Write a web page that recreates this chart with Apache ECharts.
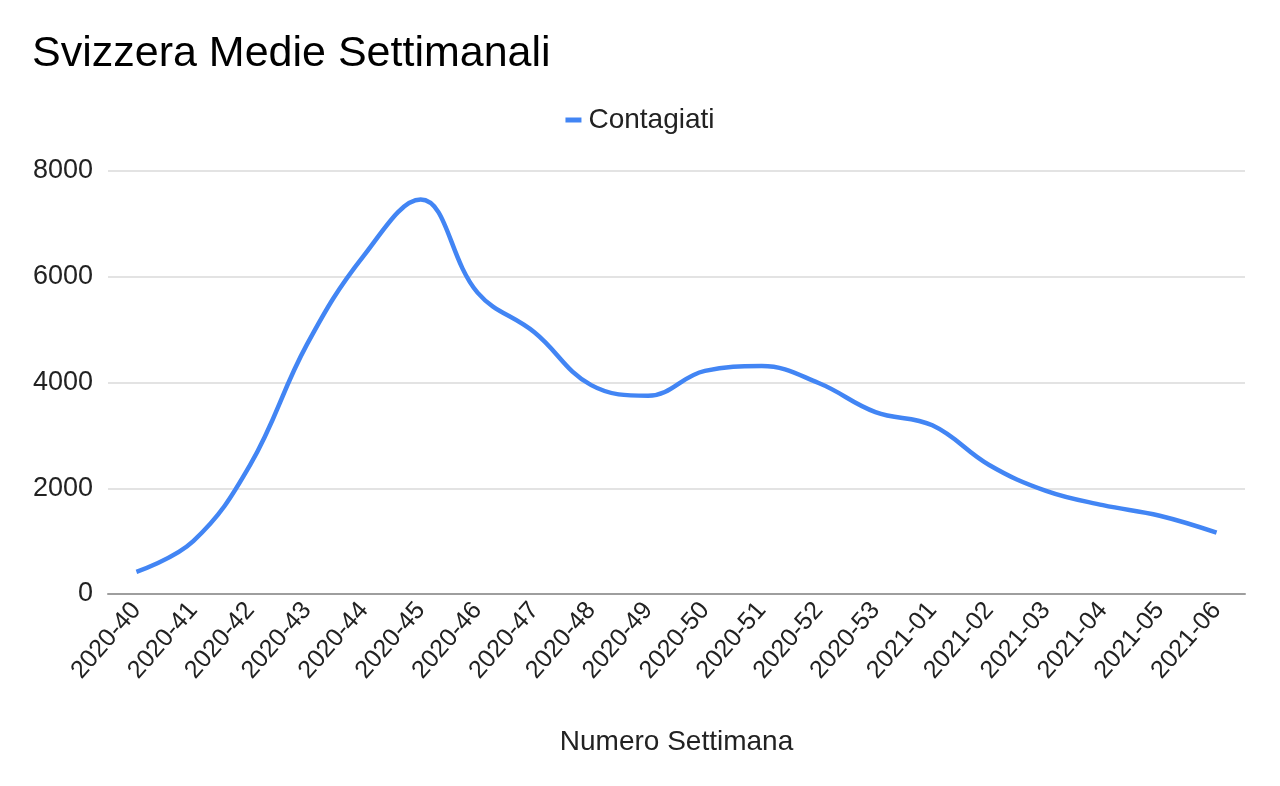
<!DOCTYPE html>
<html>
<head>
<meta charset="utf-8">
<script src="https://cdn.jsdelivr.net/npm/echarts@6/dist/echarts.min.js"></script>
<style>html,body{margin:0;padding:0;background:#fff;}#c{width:1280px;height:786px;}</style>
</head>
<body>
<div id="c"></div>
<script>
var categories = ["2020-40","2020-41","2020-42","2020-43","2020-44","2020-45","2020-46","2020-47","2020-48","2020-49","2020-50","2020-51","2020-52","2020-53","2021-01","2021-02","2021-03","2021-04","2021-05","2021-06"];
var contagiati = [420, 1000, 2440, 4720, 6400, 7460, 5700, 4950, 3950, 3750, 4220, 4310, 3990, 3440, 3190, 2440, 1950, 1680, 1480, 1160];
var yTicks = {min: 0, max: 8000, interval: 2000};

var FONT = '"Liberation Sans", Arial, sans-serif';
var chart = echarts.init(document.getElementById('c'));
chart.setOption({
  backgroundColor: '#fff',
  animation: false,
  textStyle: {fontFamily: FONT},
  title: {
    text: 'Svizzera Medie Settimanali',
    left: 27, top: 28,
    textStyle: {fontSize: 43, fontWeight: 'normal', color: '#000', fontFamily: FONT}
  },
  legend: {
    data: ['Contagiati'],
    left: 'center', top: 101,
    icon: 'rect', itemWidth: 16, itemHeight: 5, itemGap: 10,
    itemStyle: {borderWidth: 0},
    textStyle: {fontSize: 28, color: '#222', fontFamily: FONT, padding: [0, 0, 0, 2]}
  },
  grid: {left: 108, right: 35, top: 171, bottom: 192, containLabel: false},
  xAxis: {
    type: 'category',
    data: categories,
    boundaryGap: true,
    name: 'Numero Settimana',
    nameLocation: 'middle',
    nameGap: 134,
    nameTextStyle: {fontSize: 28, color: '#222', fontFamily: FONT},
    axisLine: {lineStyle: {color: '#9e9e9e', width: 2}},
    axisTick: {show: false},
    axisLabel: {rotate: 49, fontSize: 25, color: '#222', margin: 12, interval: 0, fontFamily: FONT},
    splitLine: {show: false}
  },
  yAxis: {
    type: 'value',
    min: yTicks.min, max: yTicks.max, interval: yTicks.interval,
    axisLine: {show: false},
    axisTick: {show: false},
    axisLabel: {fontSize: 27, color: '#222', margin: 15, fontFamily: FONT, formatter: function (v) { return String(v); }},
    splitLine: {lineStyle: {color: '#e3e3e3', width: 2}}
  },
  series: [{
    name: 'Contagiati',
    type: 'line',
    data: contagiati,
    smooth: 0.4,
    showSymbol: false,
    symbol: 'none',
    lineStyle: {color: '#4285F4', width: 4.5},
    itemStyle: {color: '#4285F4'}
  }]
});
</script>
</body>
</html>
